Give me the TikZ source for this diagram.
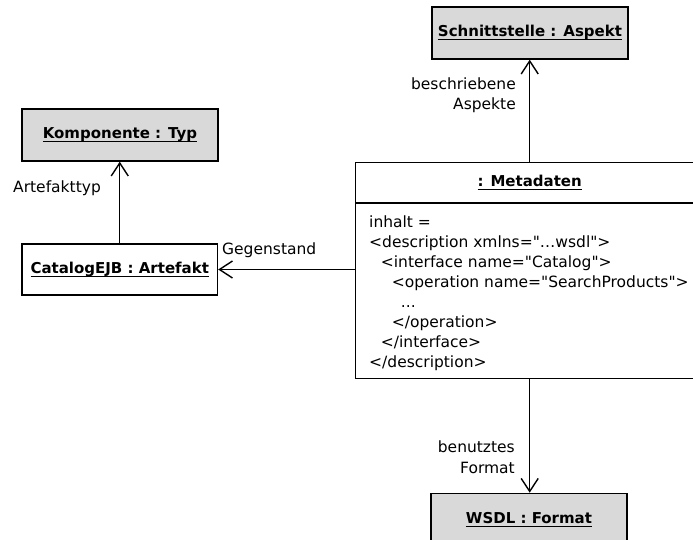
\documentclass[tikz,border=0pt]{standalone}
\usepackage{fontspec}
\setmainfont{DejaVu Sans}[Ligatures=TeXOff]
\usetikzlibrary{arrows.meta}
\definecolor{boxgray}{RGB}{217,217,217}
\newcommand\myul[1]{\setbox0\hbox{#1}\rlap{\vrule height -2.3pt depth 3.5pt width \wd0}\box0}
\begin{document}
\begin{tikzpicture}[x=1pt,y=-1pt,
  every node/.style={font=\fontsize{15.5}{20.5}\selectfont},
  obj/.style={draw, line width=1.4pt, minimum width=196pt, minimum height=52pt, inner sep=0pt, font=\fontsize{15}{20}\selectfont\bfseries},
  shaded/.style={obj, fill=boxgray},
  lbl/.style={inner sep=0pt},
  assoc/.style={line width=1.4pt, -{Straight Barb[length=13pt,width=17pt]}},
]
\useasboundingbox (0,0) rectangle (693,540);
\clip (0,0) rectangle (693,540);

\node[shaded] (schn) at (530,33) {\myul{Schnittstelle : Aspekt}};
\node[shaded] (komp) at (120,135) {\myul{Komponente : Typ}};
\node[obj, minimum width=195.5pt, minimum height=51pt] (cat) at (119.75,269.5) {\myul{CatalogEJB : Artefakt}};
\node[obj, minimum width=348pt, minimum height=40.6pt, anchor=north west] (mtitle) at (355,161.7) {\myul{: Metadaten}};
\node[draw, line width=1.4pt, minimum width=348pt, minimum height=175.4pt, anchor=north west, inner sep=0pt] (mbody) at (355,202.3) {};
\node[shaded, anchor=north] (wsdl) at (529,492.7) {\myul{WSDL : Format}};

\node[lbl, anchor=base west] (l0) at (369,227) {inhalt =};
\node[lbl, anchor=base west] (l1) at (369,247) {<description xmlns="…wsdl">};
\node[lbl, anchor=base west] (l2) at (380.7,267) {<interface name="Catalog">};
\node[lbl, anchor=base west] (l3) at (391.7,287) {<operation name="SearchProducts">};
\node[lbl, anchor=base west] (l4) at (400.7,307) {...};
\node[lbl, anchor=base west] (l5) at (391.7,327) {</operation>};
\node[lbl, anchor=base west] (l6) at (380.7,347) {</interface>};
\node[lbl, anchor=base west] (l7) at (369,367) {</description>};

\draw[assoc] (cat.north) -- (cat.north |- komp.south);
\draw[assoc] (mtitle.north) -- (mtitle.north |- schn.south);
\draw[assoc] (mbody.west |- cat.east) -- (cat.east);
\draw[assoc] (mbody.south) -- (mbody.south |- wsdl.north);

\node[lbl, anchor=west] (lart) at (13,188) {Artefakttyp};
\node[lbl, anchor=west] (lgeg) at (222,250) {Gegenstand};
\node[lbl, anchor=east, align=right] (lbes) at (516,95) {beschriebene\\Aspekte};
\node[lbl, anchor=east, align=right] (lben) at (515,457) {benutztes\\Format};
\end{tikzpicture}
\end{document}
